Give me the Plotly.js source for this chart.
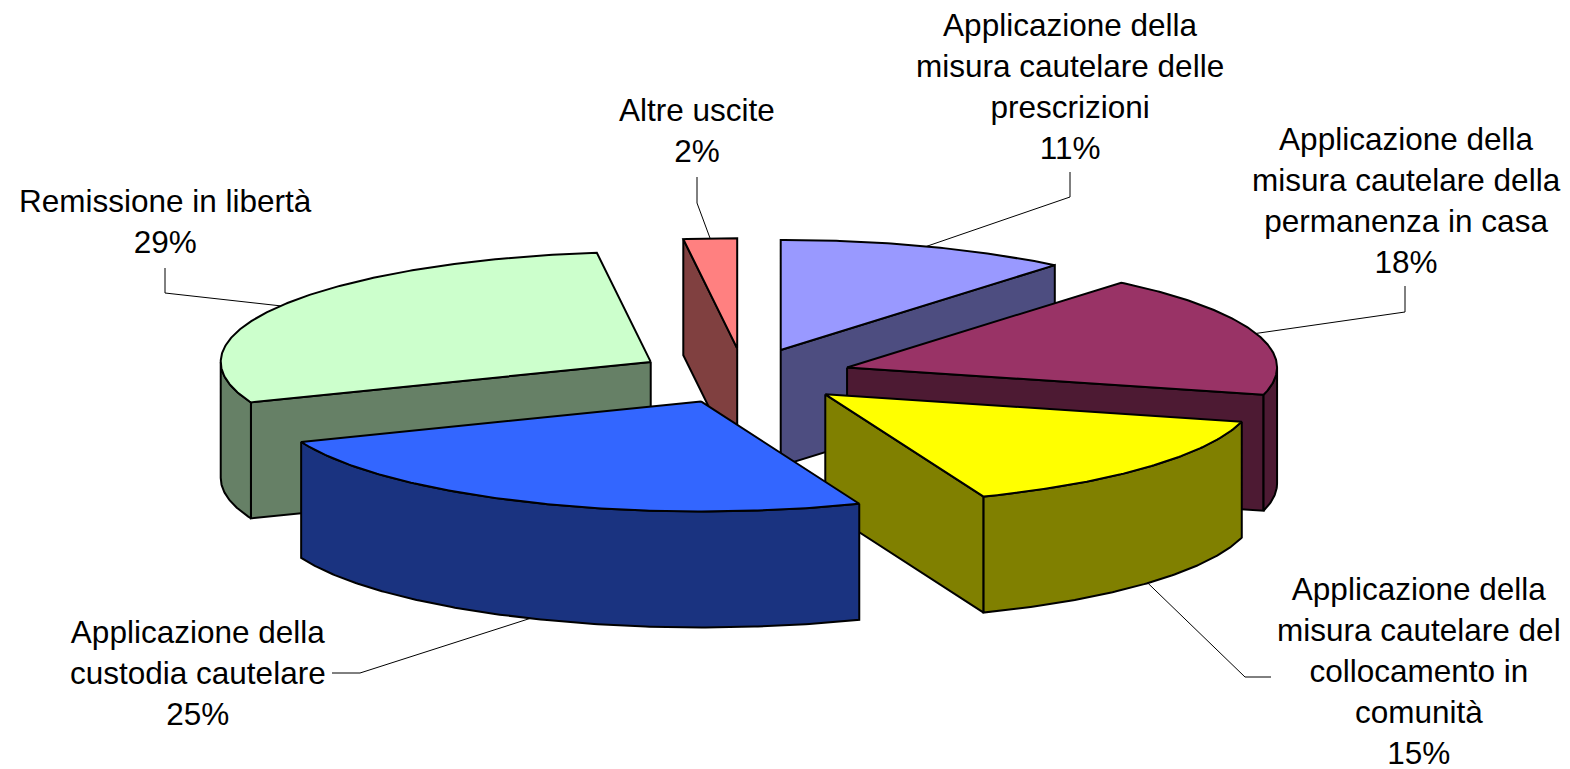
<!DOCTYPE html>
<html><head><meta charset="utf-8">
<script src="https://cdn.plot.ly/plotly-3.0.1.min.js"></script>
<style>html,body{margin:0;padding:0;background:#fff}</style>
</head><body><div id="chart" style="width:1570px;height:769px"></div>
<script>
// ---- data ----
const categories = [
  "Applicazione della misura cautelare delle prescrizioni",
  "Applicazione della misura cautelare della permanenza in casa",
  "Applicazione della misura cautelare del collocamento in comunità",
  "Applicazione della custodia cautelare",
  "Remissione in libertà",
  "Altre uscite"
];
const values = [11, 18, 15, 25, 29, 2];
const labelLines = [
  "Applicazione della<br>misura cautelare delle<br>prescrizioni",
  "Applicazione della<br>misura cautelare della<br>permanenza in casa",
  "Applicazione della<br>misura cautelare del<br>collocamento in<br>comunità",
  "Applicazione della<br>custodia cautelare",
  "Remissione in libertà",
  "Altre uscite"
];

// ---- styles / layout ----
const topColors  = ["#9999FF", "#993366", "#FFFF00", "#3366FF", "#CCFFCC", "#FF8080"];
const sideColors = ["#4D4D80", "#4D1A33", "#808000", "#1A3380", "#668066", "#804040"];
const PIE = {cx: 744, cy: 376, rx: 430, ry: 110, depth: 116, explode: 0.252};
const labelPos    = [[1070, 86], [1406, 200], [1419, 671], [198, 673], [165, 221], [697, 130]];
const leaderElbow = [[1070, 197], [1405, 312], [1245, 677], [360, 673], [165, 293], [697, 203]];
const leaderEnd   = [[1070, 172], [1405, 286], [1271, 677], [332, 673], [165, 268], [697, 177]];
const FONT = {family: "Liberation Sans, Arial, sans-serif", size: 31.5, color: "#000"};

// ---- geometry ----
const total = values.reduce((a, b) => a + b, 0);
const rad = d => d * Math.PI / 180;
const starts = [], ends = [], mids = [];
let acc = 0;
values.forEach(v => {
  const a = acc / total * 360; acc += v; const b = acc / total * 360;
  starts.push(a); ends.push(b); mids.push((a + b) / 2);
});
const offsets = mids.map(m => [PIE.explode * Math.sin(rad(m)) * PIE.rx, -PIE.explode * Math.cos(rad(m)) * PIE.ry]);
function pt(i, deg, r, z) {
  return [PIE.cx + offsets[i][0] + r * Math.sin(rad(deg)) * PIE.rx,
          PIE.cy + offsets[i][1] - r * Math.cos(rad(deg)) * PIE.ry + z];
}
function arc(i, a, b, z) {
  const pts = [];
  const n = Math.max(2, Math.ceil(Math.abs(b - a) / 0.5));
  for (let k = 0; k <= n; k++) pts.push(pt(i, a + (b - a) * k / n, 1, z));
  return pts;
}
const traces = [];
function poly(pts, color) {
  const closed = pts.concat([pts[0]]);
  traces.push({type: "scatter", mode: "lines", x: closed.map(p => p[0]), y: closed.map(p => p[1]),
    fill: "toself", fillcolor: color, line: {color: "#000", width: 2, shape: "linear"},
    hoverinfo: "skip", showlegend: false});
}
const order = values.map((v, i) => i).sort((p, q) => Math.cos(rad(mids[q])) - Math.cos(rad(mids[p])));
order.forEach(i => {
  const a = starts[i], b = ends[i], D = PIE.depth;
  // radial cut faces
  [[a, a - 90], [b, b + 90]].forEach(([ang, nrm]) => {
    if (Math.cos(rad(nrm)) < -1e-6) {
      poly([pt(i, 0, 0, 0), pt(i, ang, 1, 0), pt(i, ang, 1, D), pt(i, 0, 0, D)], sideColors[i]);
    }
  });
  // outer wall (front half)
  const lo = Math.max(a, 90), hi = Math.min(b, 270);
  if (hi > lo) poly(arc(i, lo, hi, 0).concat(arc(i, hi, lo, D)), sideColors[i]);
  // top face
  poly([pt(i, 0, 0, 0)].concat(arc(i, a, b, 0)), topColors[i]);
});
// leader lines
values.forEach((v, i) => {
  const m = mids[i];
  const att = Math.cos(rad(m)) >= 0 ? pt(i, m, 1, 0) : pt(i, m, 1, PIE.depth);
  const p = [att, leaderElbow[i], leaderEnd[i]];
  traces.push({type: "scatter", mode: "lines", x: p.map(q => q[0]), y: p.map(q => q[1]),
    line: {color: "#000", width: 1}, hoverinfo: "skip", showlegend: false});
});
const annotations = values.map((v, i) => ({
  x: labelPos[i][0], y: labelPos[i][1], xref: "x", yref: "y",
  text: labelLines[i] + "<br>" + Math.round(v / total * 100) + "%",
  showarrow: false, xanchor: "center", yanchor: "middle", align: "center", font: FONT
}));
const layout = {
  width: 1570, height: 769, margin: {l: 0, r: 0, t: 0, b: 0, pad: 0},
  paper_bgcolor: "#fff", plot_bgcolor: "#fff", showlegend: false,
  xaxis: {range: [0, 1570], visible: false, fixedrange: true},
  yaxis: {range: [769, 0], visible: false, fixedrange: true},
  annotations: annotations
};
Plotly.newPlot("chart", traces, layout, {staticPlot: true, displayModeBar: false});
</script></body></html>
